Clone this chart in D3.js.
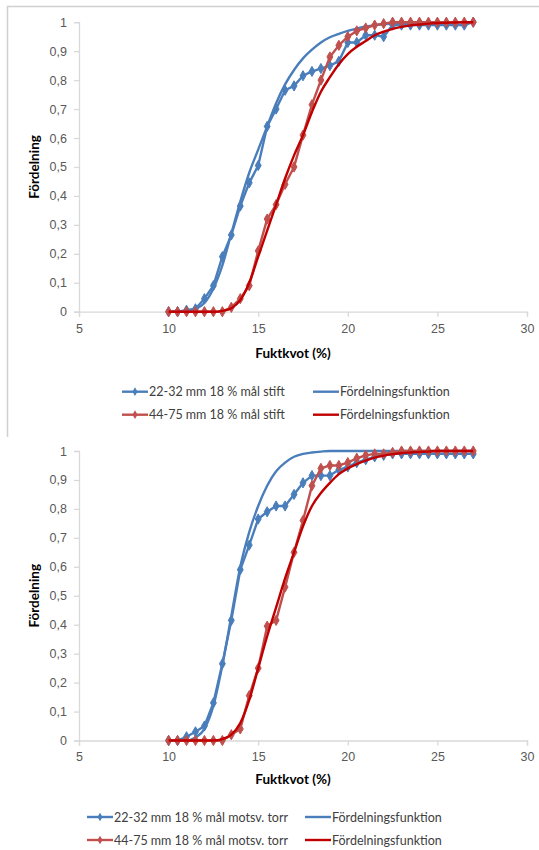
<!DOCTYPE html>
<html>
<head>
<meta charset="utf-8">
<script src="https://cdn.jsdelivr.net/npm/d3@7"></script>
<style>
  body { margin: 0; background: #fff; }
  svg { display: block; font-family: Lato, "Open Sans", sans-serif; }
</style>
</head>
<body>
<div id="chart"></div>
<script>
// Moisture classes on the x axis (Fuktkvot, %)
const moisture = [10, 10.5, 11, 11.5, 12, 12.5, 13, 13.5, 14, 14.5, 15, 15.5, 16, 16.5, 17, 17.5,
  18, 18.5, 19, 19.5, 20, 20.5, 21, 21.5, 22, 22.5, 23, 23.5, 24, 24.5, 25, 25.5, 26, 26.5, 27];

// Top panel: "mål stift"
const stiftSmall = [0, 0, 0.005, 0.01, 0.045, 0.09, 0.19, 0.265, 0.365, 0.445, 0.505, 0.64, 0.70, 0.765, 0.78, 0.815,
  0.83, 0.84, 0.85, 0.865, 0.93, 0.93, 0.955, 0.955, 0.95, 0.99, 0.99, 0.99, 0.99, 0.99, 0.99, 0.99, 0.99, 0.99, 1];
const stiftSmallFit = [0, 0, 0.002, 0.01, 0.03, 0.08, 0.16, 0.27, 0.38, 0.48, 0.56, 0.64, 0.72, 0.785, 0.835, 0.875,
  0.905, 0.93, 0.948, 0.96, 0.97, 0.978, 0.985, 0.99, 0.993, 0.995, 0.997, 0.998, 0.999, 1, 1, 1, 1, 1, 1];
const stiftLarge = [0, 0, 0, 0, 0, 0, 0, 0.015, 0.045, 0.09, 0.21, 0.32, 0.37, 0.44, 0.50, 0.61,
  0.715, 0.80, 0.88, 0.92, 0.95, 0.97, 0.98, 0.99, 0.995, 1, 1, 1, 1, 1, 1, 1, 1, 1, 1];
const stiftLargeFit = [0, 0, 0, 0, 0, 0, 0.003, 0.012, 0.04, 0.10, 0.19, 0.28, 0.37, 0.46, 0.54, 0.61,
  0.69, 0.76, 0.81, 0.855, 0.89, 0.915, 0.935, 0.955, 0.967, 0.977, 0.984, 0.989, 0.992, 0.995, 0.997, 0.998, 0.999, 1, 1];

// Bottom panel: "mål motsv. torr"
const torrSmall = [0, 0, 0.013, 0.03, 0.05, 0.13, 0.265, 0.415, 0.59, 0.675, 0.765, 0.79, 0.81, 0.81, 0.85, 0.89,
  0.915, 0.915, 0.915, 0.935, 0.945, 0.96, 0.97, 0.98, 0.985, 0.99, 0.99, 0.99, 0.99, 0.99, 0.99, 0.99, 0.99, 0.99, 0.99];
const torrSmallFit = [0, 0, 0, 0.01, 0.04, 0.12, 0.26, 0.43, 0.60, 0.72, 0.81, 0.88, 0.93, 0.96, 0.98, 0.99,
  0.995, 0.998, 1, 1, 1, 1, 1, 1, 1, 1, 1, 1, 1, 1, 1, 1, 1, 1, 1];
const torrLarge = [0, 0, 0, 0, 0, 0, 0, 0.02, 0.04, 0.155, 0.25, 0.395, 0.415, 0.53, 0.65, 0.76,
  0.88, 0.94, 0.95, 0.95, 0.96, 0.975, 0.985, 0.99, 0.99, 0.995, 1, 1, 1, 1, 1, 1, 1, 1, 1];
const torrLargeFit = [0, 0, 0, 0, 0, 0, 0.005, 0.02, 0.06, 0.14, 0.25, 0.36, 0.46, 0.56, 0.65, 0.74,
  0.81, 0.855, 0.89, 0.92, 0.94, 0.955, 0.967, 0.977, 0.984, 0.989, 0.993, 0.995, 0.997, 0.998, 1, 1, 1, 1, 1];

// Axis ticks
const xTicks = [5, 10, 15, 20, 25, 30];
const yTicks = [0, 0.1, 0.2, 0.3, 0.4, 0.5, 0.6, 0.7, 0.8, 0.9, 1];

// Legend labels
const stiftLabels = ["22-32 mm 18 % mål stift", "Fördelningsfunktion", "44-75 mm 18 % mål stift", "Fördelningsfunktion"];
const torrLabels = ["22-32 mm 18 % mål motsv. torr", "Fördelningsfunktion", "44-75 mm 18 % mål motsv. torr", "Fördelningsfunktion"];

// Colors (Excel 2007 palette)
const blue_color    = '#4a7ebb';
const red_color     = '#c0504d';
const red_fit_color = '#c00000';
const axis_color    = '#d9d9d9';
const label_color   = '#595959';
const text_color    = '#404040';

const width  = 539;
const height = 850;

const svg = d3.select("#chart").append("svg")
  .attr("width", width)
  .attr("height", height);

// Frame of the upper chart (only its top and left edges are visible)
svg.append("path")
  .attr("d", "M7.5,437 V6.5 H539")
  .attr("fill", "none")
  .attr("stroke", "#d0d0d0")
  .attr("stroke-width", 1.5);

const x = d3.scaleLinear().domain([5, 30]).range([79, 527]);

function drawPanel(top, series, labels, legendX, titleDy, legendDy) {
  const g = svg.append("g").attr("transform", `translate(0,${top})`);
  const y = d3.scaleLinear().domain([0, 1]).range([289.5, 0]);

  // axes
  const yAxis = g.append("g").attr("transform", "translate(79,0)")
    .call(d3.axisLeft(y).tickValues(yTicks).tickSize(5).tickPadding(7)
      .tickFormat(d => d3.format(".1~f")(d).replace(".", ",")));
  const xAxis = g.append("g").attr("transform", `translate(0,${y(0)})`)
    .call(d3.axisBottom(x).tickValues(xTicks).tickSize(5).tickPadding(7));
  [xAxis, yAxis].forEach(a => {
    a.select(".domain").attr("stroke", axis_color).attr("stroke-width", 1.3);
    a.selectAll(".tick line").attr("stroke", axis_color).attr("stroke-width", 1.3);
    a.selectAll(".tick text").attr("fill", label_color).style("font-size", "12.5px");
  });

  // axis titles
  g.append("text")
    .attr("x", 293).attr("y", y(0) + titleDy)
    .attr("text-anchor", "middle")
    .style("font-size", "13.5px").style("font-weight", "bold")
    .attr("fill", "#000")
    .text("Fuktkvot (%)");
  g.append("text")
    .attr("transform", `translate(39,${y(0.5)}) rotate(-90)`)
    .attr("text-anchor", "middle")
    .style("font-size", "13.5px").style("font-weight", "bold")
    .attr("fill", "#000")
    .text("Fördelning");

  const line = d3.line().x((d, i) => x(moisture[i])).y(d => y(d));
  const smoothLine = d3.line().x((d, i) => x(moisture[i])).y(d => y(d)).curve(d3.curveMonotoneX);

  series.forEach(s => {
    g.append("path")
      .datum(s.values)
      .attr("fill", "none")
      .attr("stroke", s.color)
      .attr("stroke-width", 2.4)
      .attr("stroke-linejoin", "round")
      .attr("d", s.fit ? smoothLine : line);
    if (!s.fit) {
      g.append("g").selectAll("path")
        .data(s.values)
        .join("path")
        .attr("transform", (d, i) => `translate(${x(moisture[i])},${y(d)})`)
        .attr("d", d3.symbol(d3.symbolDiamond, 30))
        .attr("fill", s.marker)
        .attr("stroke", s.marker)
        .attr("stroke-width", 1);
    }
  });

  // legend, two columns by two rows
  const legend = g.append("g");
  labels.forEach((label, i) => {
    const s = series[i];
    const lx = legendX[i % 2];
    const ly = y(0) + legendDy + Math.floor(i / 2) * 23;
    legend.append("line")
      .attr("x1", lx).attr("x2", lx + 26)
      .attr("y1", ly).attr("y2", ly)
      .attr("stroke", s.color).attr("stroke-width", 2.4);
    if (!s.fit) {
      legend.append("path")
        .attr("transform", `translate(${lx + 13},${ly})`)
        .attr("d", d3.symbol(d3.symbolDiamond, 22))
        .attr("fill", s.marker);
    }
    legend.append("text")
      .attr("x", lx + 27).attr("y", ly + 4.5)
      .attr("fill", text_color)
      .style("font-size", "12.5px")
      .text(label);
  });
}

drawPanel(22.2, [
  { values: stiftSmall, color: blue_color, marker: blue_color, fit: false },
  { values: stiftSmallFit, color: blue_color, fit: true },
  { values: stiftLarge, color: red_color, marker: red_color, fit: false },
  { values: stiftLargeFit, color: red_fit_color, fit: true }
], stiftLabels, [122, 313], 46, 80);

drawPanel(451, [
  { values: torrSmall, color: blue_color, marker: blue_color, fit: false },
  { values: torrSmallFit, color: blue_color, fit: true },
  { values: torrLarge, color: red_color, marker: red_color, fit: false },
  { values: torrLargeFit, color: red_fit_color, fit: true }
], torrLabels, [87, 305], 43, 76.5);
</script>
</body>
</html>
